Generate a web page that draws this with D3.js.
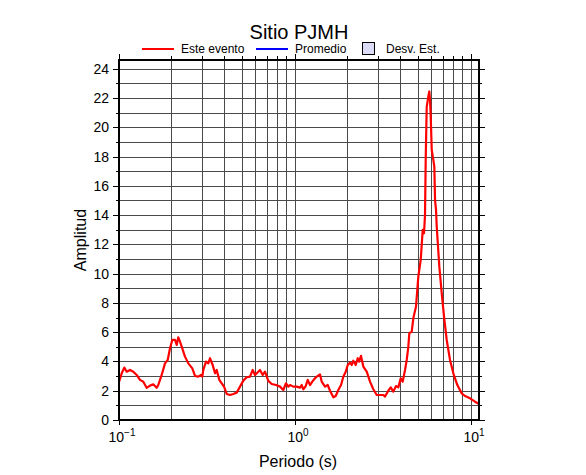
<!DOCTYPE html>
<html><head><meta charset="utf-8">
<script src="https://cdn.jsdelivr.net/npm/d3@7"></script>
<style>body{margin:0;background:#fff}svg{display:block}text{font-family:"Liberation Sans",Arial,sans-serif}</style>
</head><body>
<svg id="c" width="586" height="475"></svg>
<script>
const periods = [0.100,0.1036,0.1072,0.1106,0.1155,0.1206,0.1260,0.1316,0.1374,0.1436,0.1500,0.1566,0.1637,0.1672,0.1748,0.1825,0.1891,0.1949,0.2008,0.2081,0.2127,0.2172,0.2221,0.2271,0.2371,0.2476,0.2609,0.2703,0.2822,0.2924,0.2974,
0.3013,0.3121,0.3217,0.3289,0.3407,0.3512,0.3590,0.3715,0.3833,0.3950,0.4092,0.4273,0.4461,0.4664,0.4870,0.5085,0.5316,0.5551,0.5751,0.5926,0.6107,0.6326,0.6555,0.6754,0.7053,0.7373,0.7798,0.8218,0.8580,0.8889,0.9160,
0.9367,0.9779,1.0226,1.0676,1.0917,1.1149,1.1503,1.1809,1.2168,1.2540,1.2990,1.3283,1.3868,1.4181,1.4808,1.5339,1.5809,1.6506,1.7035,1.7620,1.8257,1.8812,1.9415,1.9927,2.0538,2.1001,2.1446,2.2127,2.2715,2.3101,2.3714,2.4441,2.5552,2.6678,2.7858,
2.9125,3.0410,3.1746,3.2463,3.3893,3.4980,3.6185,3.7490,3.8630,3.9866,4.0919,4.2170,4.3122,4.4035,4.4607,4.6036,4.7010,4.8697,5.0185,5.1780,5.3156,5.4075,5.4776,5.528,5.601,5.720,5.796,5.848,5.902,5.926,5.981,6.108,6.188,6.245,6.326,6.385,6.606,6.816,7.024,7.276,7.598,7.933,8.361,8.856,9.246,9.870,10.536,11.10];
const amplitude = [2.60,3.19,3.58,3.30,3.42,3.30,3.08,2.74,2.62,2.20,2.35,2.44,2.20,2.39,3.08,3.87,4.10,4.90,5.47,5.47,5.13,5.65,5.36,5.01,4.33,3.87,3.53,3.01,2.96,3.08,2.96,
3.42,3.99,3.87,4.22,3.76,3.19,3.42,2.74,2.51,2.28,1.78,1.71,1.78,1.87,2.28,2.69,2.92,2.96,3.42,3.08,3.23,3.42,3.08,3.30,2.67,2.46,2.39,2.28,2.05,2.51,2.28,
2.39,2.28,2.28,2.21,2.39,2.10,2.32,2.74,2.39,2.62,2.85,2.96,3.12,2.62,2.28,2.39,2.00,1.55,1.64,2.05,2.39,2.96,3.30,3.76,3.92,3.76,4.05,3.76,4.22,3.99,4.38,3.65,3.30,2.62,2.10,
1.71,1.71,1.71,1.60,2.00,2.23,1.94,2.32,2.23,2.85,2.62,3.42,4.10,5.01,5.93,6.04,6.95,7.75,9.80,10.94,12.99,12.76,14.02,17.8,21.4,22.1,22.45,21.88,20.74,20.05,18.46,17.78,17.32,15.04,14.36,13.22,10.48,8.66,7.06,5.47,4.10,3.19,2.39,1.82,1.64,1.48,1.25,1.09];
const yTicks = [0,2,4,6,8,10,12,14,16,18,20,22,24];
const xDecades = [0.1,1,10];
const xDecadeLabels = ["\u22121","0","1"];
const title = "Sitio PJMH";
const legendItems = ["Este evento","Promedio","Desv. Est."];

const svg = d3.select("#c");
const L=119,R=479,T=60,B=420;
const x = d3.scaleLog().domain([0.1,11.1]).range([L,R]);
const y = d3.scaleLinear().domain([0,24.6]).range([B,T]);

const xGrid=[];
[0.1,1,10].forEach(d=>{for(let k=1;k<10;k++){const v=d*k; if(v>=0.1&&v<=11.1) xGrid.push(v);}});
const yGrid=d3.range(0,25,1);

const g=svg.append("g");
g.selectAll(".vg").data(xGrid).join("line").attr("x1",d=>x(d)).attr("x2",d=>x(d)).attr("y1",T).attr("y2",B).attr("stroke","#4a4a4a").attr("stroke-width",1).attr("shape-rendering","crispEdges");
g.selectAll(".hg").data(yGrid).join("line").attr("y1",d=>Math.round(y(d))+0.5).attr("y2",d=>Math.round(y(d))+0.5).attr("x1",L).attr("x2",R).attr("stroke","#4a4a4a").attr("stroke-width",1);

g.selectAll(".tt").data(xGrid).join("line").attr("x1",d=>x(d)).attr("x2",d=>x(d)).attr("y1",T).attr("y2",d=>T-(xDecades.includes(d)?6:4)).attr("stroke","#000").attr("shape-rendering","crispEdges");
g.selectAll(".bt").data(xGrid).join("line").attr("x1",d=>x(d)).attr("x2",d=>x(d)).attr("y1",B).attr("y2",d=>B+(xDecades.includes(d)?5:0)).attr("stroke","#000").attr("shape-rendering","crispEdges");
g.selectAll(".lt").data(yGrid).join("line").attr("y1",d=>Math.round(y(d))+0.5).attr("y2",d=>Math.round(y(d))+0.5).attr("x1",L).attr("x2",d=>L-(d%2===0?6:3)).attr("stroke","#000");
g.selectAll(".rt").data(yGrid).join("line").attr("y1",d=>Math.round(y(d))+0.5).attr("y2",d=>Math.round(y(d))+0.5).attr("x1",R).attr("x2",d=>R+(d%2===0?6:3)).attr("stroke","#000");

const line=d3.line().x((d,i)=>x(periods[i])).y(d=>y(d));
svg.append("path").datum(amplitude).attr("d",line).attr("fill","none").attr("stroke","#ff0000").attr("stroke-width",2.2).attr("stroke-linejoin","round");

svg.append("rect").attr("x",L).attr("y",T).attr("width",R-L).attr("height",B-T).attr("fill","none").attr("stroke","#000").attr("stroke-width",2);

svg.selectAll(".yl").data(yTicks).join("text").attr("x",109).attr("y",d=>y(d)+5).attr("text-anchor","end").attr("font-size",14).text(d=>d);
const xl=svg.selectAll(".xl").data(xDecades).join("text").attr("y",442).attr("font-size",14).attr("text-anchor","middle").attr("x",d=>x(d)+3);
xl.append("tspan").text("10");
xl.append("tspan").attr("font-size",10).attr("dy",-6).text((d,i)=>xDecadeLabels[i]);

svg.append("text").attr("x",298).attr("y",467).attr("text-anchor","middle").attr("font-size",16).text("Periodo (s)");
svg.append("text").attr("transform","translate(86,240) rotate(-90)").attr("text-anchor","middle").attr("font-size",16).text("Amplitud");
svg.append("text").attr("x",299).attr("y",39).attr("text-anchor","middle").attr("font-size",20).text(title);

svg.append("line").attr("x1",142).attr("x2",174).attr("y1",49).attr("y2",49).attr("stroke","#ff0000").attr("stroke-width",2);
svg.append("text").attr("x",181).attr("y",53).attr("font-size",12).text(legendItems[0]);
svg.append("line").attr("x1",256).attr("x2",288).attr("y1",49).attr("y2",49).attr("stroke","#0000ff").attr("stroke-width",2);
svg.append("text").attr("x",295).attr("y",53).attr("font-size",12).text(legendItems[1]);
svg.append("rect").attr("x",362.5).attr("y",42.5).attr("width",12).attr("height",12).attr("fill","#dcdcf6").attr("stroke","#000").attr("stroke-width",1);
svg.append("text").attr("x",386).attr("y",53).attr("font-size",12).text(legendItems[2]);
</script>
</body></html>
